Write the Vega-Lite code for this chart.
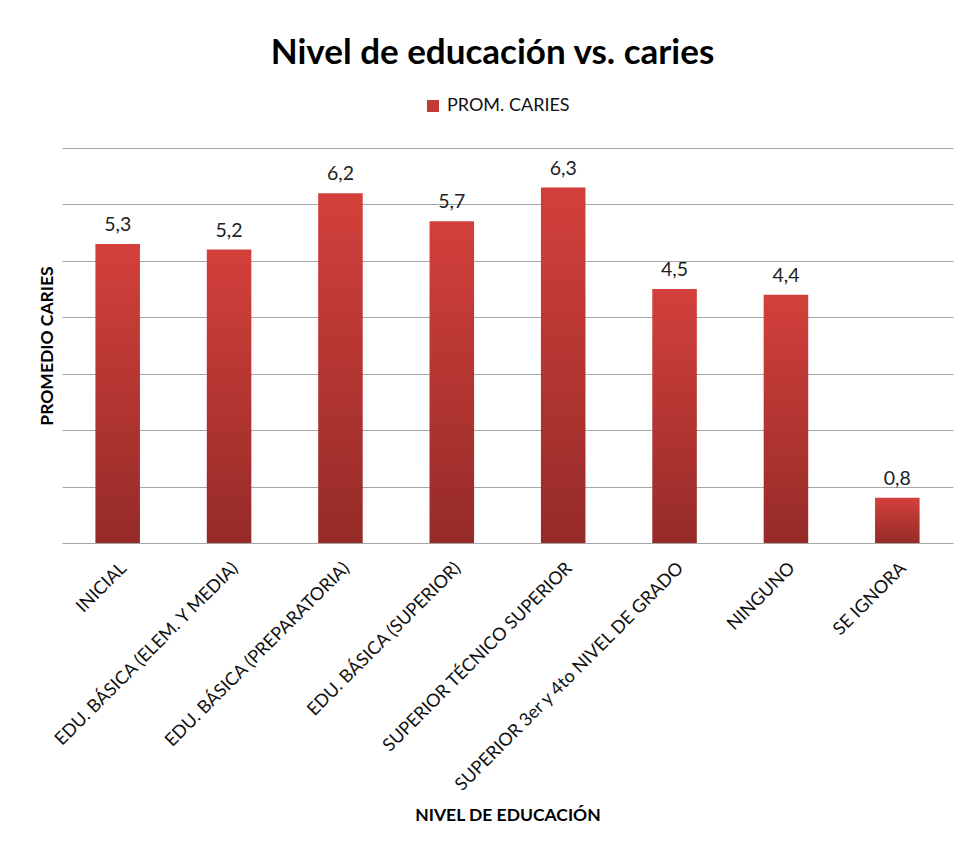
{
  "$schema": "https://vega.github.io/schema/vega-lite/v6.json",
  "width": 891,
  "height": 395,
  "autosize": {"type": "none"},
  "padding": {"left": 62, "top": 148, "right": 7, "bottom": 302},
  "background": "white",
  "config": {
    "locale": {"number": {"decimal": ",", "thousands": ".", "grouping": [3], "currency": ["", " €"]}},
    "view": {"stroke": null},
    "font": "Lato"
  },
  "title": {
    "text": "Nivel de educación vs. caries",
    "font": "Lato",
    "fontSize": 35,
    "fontWeight": "bold",
    "color": "#000000",
    "anchor": "middle",
    "dx": -15,
    "offset": 26
  },
  "data": {
    "values": [
      {"nivel": "INICIAL", "caries": 5.3},
      {"nivel": "EDU. BÁSICA (ELEM. Y MEDIA)", "caries": 5.2},
      {"nivel": "EDU. BÁSICA (PREPARATORIA)", "caries": 6.2},
      {"nivel": "EDU. BÁSICA (SUPERIOR)", "caries": 5.7},
      {"nivel": "SUPERIOR TÉCNICO SUPERIOR", "caries": 6.3},
      {"nivel": "SUPERIOR 3er y 4to NIVEL DE GRADO", "caries": 4.5},
      {"nivel": "NINGUNO", "caries": 4.4},
      {"nivel": "SE IGNORA", "caries": 0.8}
    ]
  },
  "encoding": {
    "x": {
      "field": "nivel",
      "type": "nominal",
      "sort": null,
      "scale": {"paddingInner": 0.6, "paddingOuter": 0.3},
      "axis": {
        "title": "NIVEL DE EDUCACIÓN",
        "titleFont": "Lato",
        "titleFontSize": 17.5,
        "titleFontWeight": "bold",
        "titleColor": "#000000",
        "titlePadding": 63,
        "labelAngle": -45,
        "labelFont": "Lato",
        "labelFontSize": 18,
        "labelColor": "#111111",
        "labelPadding": 16,
        "labelLimit": 0,
        "ticks": false,
        "domain": true,
        "domainColor": "#a6a6a6",
        "grid": false
      }
    },
    "y": {
      "field": "caries",
      "type": "quantitative",
      "scale": {"domain": [0, 7], "nice": false},
      "axis": {
        "title": "PROMEDIO CARIES",
        "titleFont": "Lato",
        "titleFontSize": 17.5,
        "titleFontWeight": "bold",
        "titleColor": "#000000",
        "titlePadding": 6,
        "values": [0, 1, 2, 3, 4, 5, 6, 7],
        "labels": false,
        "ticks": false,
        "domain": false,
        "grid": true,
        "gridColor": "#a6a6a6",
        "gridWidth": 1
      }
    }
  },
  "layer": [
    {
      "mark": {
        "type": "bar",
        "color": {
          "gradient": "linear",
          "x1": 0, "y1": 0, "x2": 0, "y2": 1,
          "stops": [
            {"offset": 0, "color": "#d3403b"},
            {"offset": 1, "color": "#952b28"}
          ]
        }
      }
    },
    {
      "mark": {"type": "bar", "opacity": 0},
      "encoding": {
        "color": {
          "datum": "PROM. CARIES",
          "scale": {"range": ["#c23a36"]},
          "legend": {
            "title": null,
            "orient": "none",
            "legendX": 362,
            "legendY": -51,
            "symbolType": "square",
            "symbolSize": 144,
            "symbolOpacity": 1,
            "labelFont": "Lato",
            "labelFontSize": 18,
            "labelOffset": 5,
            "labelColor": "#111111"
          }
        }
      }
    },
    {
      "mark": {"type": "text", "dy": -13, "baseline": "alphabetic", "fontSize": 19.5, "font": "Lato", "color": "#222222"},
      "encoding": {
        "text": {"field": "caries", "type": "quantitative", "format": ".1f"}
      }
    }
  ]
}
